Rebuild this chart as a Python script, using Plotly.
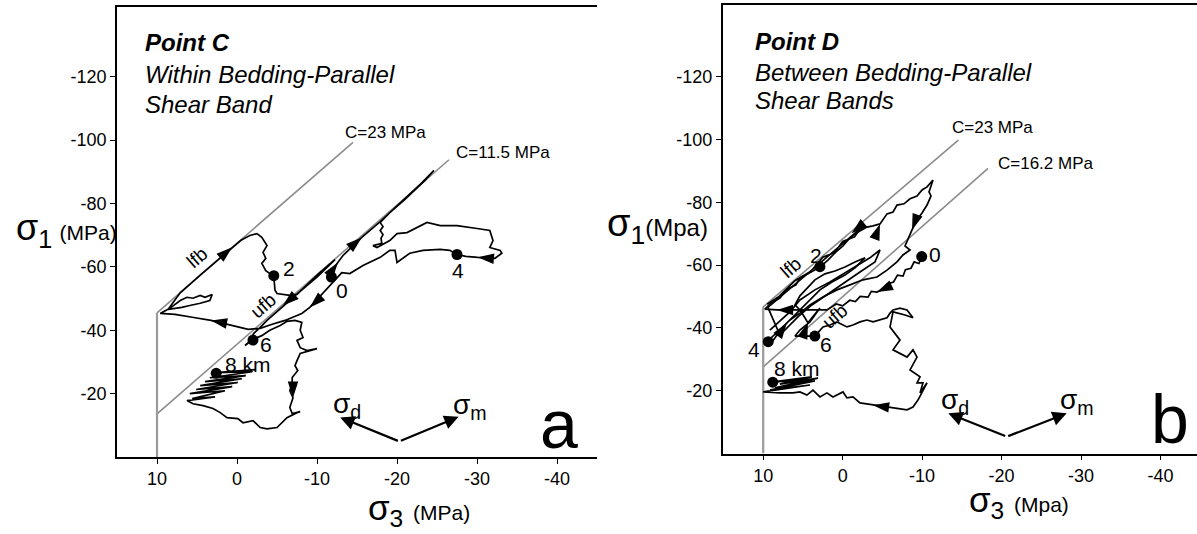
import plotly.graph_objects as go

FONT = "Liberation Sans, Arial, Helvetica, sans-serif"

# ---------------- axis ticks ----------------
X_TICKS = [10, 0, -10, -20, -30, -40]
X_TICK_TEXT = ["10", "0", "-10", "-20", "-30", "-40"]
Y_TICKS = [-20, -40, -60, -80, -100, -120]
Y_TICK_TEXT = ["-20", "-40", "-60", "-80", "-100", "-120"]

# ---------------- panel a (Point C) ----------------
A_ENV_23 = [(10, -45.5), (-14.5, -99.3)]
A_ENV_115 = [(10, -13.6), (-26.5, -93.8)]
A_VERTICAL = [(10, 0), (10, -45.5)]

A_PATH = [
    (-11.8, -56.6), (-12.1, -59.5), (-12.6, -61.4), (-13.25, -63.6), (-14.4, -66.4), (-15.6, -69.3),
    (-17.9, -74.3), (-20.4, -80.0), (-22.9, -86.0), (-24.6, -90.4),
    (-23.5, -87.3), (-21.0, -81.3), (-19.1, -77.1), (-17.9, -74.0), (-18.25, -72.7), (-17.9, -71.5),
    (-18.25, -70.2), (-18.0, -69.0), (-18.1, -67.4), (-17.0, -66.7), (-17.5, -66.1),
    (-19.1, -68.3), (-20.0, -70.5), (-21.25, -70.8), (-22.5, -72.4), (-23.75, -74.0), (-25.4, -73.0),
    (-27.5, -73.0), (-30.0, -72.1), (-31.6, -71.5), (-32.0, -68.3), (-31.6, -66.1), (-32.9, -65.2),
    (-33.1, -64.3), (-32.25, -62.7), (-31.0, -63.0), (-30.1, -63.0), (-28.6, -63.3), (-27.5, -63.9),
    (-26.6, -65.2), (-25.4, -65.5), (-23.25, -65.2), (-21.6, -64.3), (-20.0, -61.4), (-19.75, -65.2),
    (-19.1, -65.2), (-17.9, -63.0), (-15.75, -60.4), (-14.1, -57.9), (-13.1, -58.2),
    (-11.0, -52.6), (-10.1, -50.1), (-9.1, -47.2), (-8.1, -45.3), (-7.0, -44.1), (-6.0, -43.1),
    (-4.4, -41.9), (-2.9, -40.6), (-1.4, -40.3), (0.6, -41.5), (3.25, -43.1), (5.6, -44.1),
    (7.75, -45.0), (9.6, -45.3),
    (8.4, -46.9), (7.1, -49.4), (6.25, -50.4), (5.5, -50.1), (4.6, -51.0), (4.0, -50.4), (3.1, -51.3),
    (3.4, -49.4), (4.6, -48.5), (5.9, -47.8), (6.9, -47.2), (8.6, -46.6),
    (7.1, -51.8), (4.6, -57.4), (2.1, -62.9), (0.6, -66.2), (-0.5, -68.4),
    (-1.6, -69.9), (-2.5, -70.5), (-3.1, -69.3), (-3.75, -66.7), (-3.25, -64.6), (-3.6, -62.7),
    (-3.1, -61.1), (-3.6, -58.8), (-4.6, -57.0),
    (-4.75, -52.6), (-5.0, -51.6), (-6.6, -51.0), (-7.5, -51.3), (-10.1, -57.6), (-12.25, -62.3),
    (-10.1, -57.0), (-7.9, -52.3),
    (-6.6, -49.4), (-5.75, -47.8), (-4.75, -45.3), (-3.75, -43.1), (-2.9, -40.9), (-2.1, -39.0),
    (-1.4, -36.1), (-1.0, -35.2), (-2.0, -37.1), (-3.1, -38.3), (-4.1, -40.0), (-5.4, -41.5), (-6.25, -42.8),
    (-7.25, -43.1), (-8.1, -42.5), (-7.9, -40.0), (-8.25, -37.7), (-7.5, -36.8), (-7.9, -34.5),
    (-8.75, -33.6), (-10.0, -34.2), (-8.75, -33.3), (-7.9, -32.7), (-7.5, -30.4), (-7.25, -28.8),
    (-7.6, -27.3), (-6.9, -25.1), (-6.9, -23.2), (-6.6, -20.9), (-7.0, -18.7), (-6.6, -15.6),
    (-6.9, -13.7), (-7.9, -14.3),
    (-7.5, -14.0), (-6.25, -12.4), (-5.0, -9.3), (-3.75, -8.9), (-2.9, -9.3), (-2.0, -11.5),
    (-0.75, -10.8), (-0.1, -12.1), (1.25, -12.4), (2.1, -14.0), (3.0, -15.3), (4.25, -16.2),
    (5.5, -16.8), (6.25, -17.8),
    (2.75, -19.0), (5.6, -18.4), (1.5, -20.9), (5.9, -20.0), (0.6, -22.2), (5.1, -21.3), (-0.1, -23.5),
    (4.6, -22.5), (-0.6, -24.7), (4.0, -23.8), (-1.1, -25.7), (3.4, -25.0), (-1.9, -26.9), (2.6, -26.6),
    (-2.25, -27.6),
]
A_ARROWS = [(-12.6, -61.4), (-15.6, -69.3), (-9.1, -47.2), (3.25, -43.1), (0.6, -66.2),
            (-5.75, -47.8), (-7.0, -18.7), (-30.1, -63.0)]
A_ARROW_ANGLES = [35, 49, -133, -79, 49, -131, 180, -85]
A_DOTS = [(-11.8, -56.8), (-4.6, -57.2), (-27.5, -63.9), (-2.0, -36.9), (2.6, -26.4)]
A_DOT_LABELS = ["0", "2", "4", "6", "8 km"]
A_DOT_LABEL_POS = [(-13.1, -52.4), (-6.5, -59.6), (-27.6, -58.8), (-3.6, -35.4), (-1.4, -29.2)]

# ---------------- panel b (Point D) ----------------
B_ENV_23 = [(10, -46.7), (-14.56, -99.8)]
B_ENV_162 = [(10, -27.6), (-18.3, -90.8)]
B_VERTICAL = [(10, 0), (10, -46.7)]

B_PATH = [
    (-9.95, -62.7), (-9.6, -60.5), (-9.0, -61.0), (-8.6, -59.0), (-7.9, -58.5), (-7.6, -56.5),
    (-6.9, -56.8), (-6.4, -54.6), (-5.6, -54.0), (-5.0, -52.2), (-4.32, -51.4), (-3.6, -51.6),
    (-3.2, -49.8), (-2.2, -50.0), (-1.6, -48.4), (-0.9, -48.8), (0.0, -47.0), (0.8, -47.6),
    (1.98, -45.7), (4.12, -45.7), (6.64, -45.7), (8.27, -45.7), (9.79, -46.0),
    (8.9, -48.2), (7.9, -49.5), (7.14, -52.1), (5.88, -53.7), (5.38, -55.9), (4.37, -57.2),
    (3.61, -58.4), (2.86, -59.4), (1.85, -61.6), (0.84, -64.2), (-0.04, -66.1), (-1.04, -69.0),
    (-1.93, -70.5), (-3.06, -72.1), (-3.82, -72.5), (-4.7, -73.1), (-5.58, -76.3), (-6.34, -76.9),
    (-6.84, -79.1), (-7.72, -79.5), (-8.48, -81.1), (-9.36, -82.0), (-9.99, -83.9), (-10.62, -84.9),
    (-11.37, -87.1), (-10.87, -83.3), (-11.12, -82.0), (-10.62, -79.1), (-9.99, -76.6), (-9.23, -74.0),
    (-8.73, -71.2), (-8.22, -68.0), (-7.85, -66.1), (-8.48, -64.8), (-7.59, -63.2), (-6.84, -61.0),
    (-5.58, -58.4), (-4.32, -56.2), (-2.56, -55.3), (-0.92, -53.7), (0.72, -52.1), (2.48, -49.8),
    (4.12, -47.3), (5.38, -44.7), (6.64, -42.5), (7.9, -39.3), (8.9, -37.1), (9.37, -35.6),
    (9.16, -34.6), (8.53, -36.8), (7.64, -40.0), (7.01, -41.6), (6.0, -44.1), (5.0, -46.7),
    (3.87, -49.5), (2.86, -52.1), (1.35, -54.6), (-0.29, -56.8), (-1.55, -59.1), (-2.81, -62.3),
    (-1.55, -61.0), (-0.29, -59.4), (0.97, -58.1), (2.23, -57.2), (3.49, -55.3), (4.75, -52.1),
    (5.38, -50.2), (6.0, -47.3), (5.38, -45.7), (4.75, -43.2), (4.37, -41.6), (3.87, -43.2),
    (2.86, -46.3), (4.12, -41.9), (5.38, -39.3), (6.0, -37.4), (3.49, -37.4),
    (2.48, -40.3), (1.6, -40.9), (0.72, -41.9), (-0.54, -40.3), (-1.3, -40.9), (-2.18, -41.9),
    (-3.06, -42.5), (-3.82, -41.9), (-5.58, -43.2), (-5.96, -44.7), (-6.34, -45.7), (-7.22, -46.3),
    (-8.1, -45.7), (-8.85, -43.2), (-7.85, -44.1), (-6.34, -45.1), (-5.96, -40.3), (-7.22, -36.1),
    (-6.34, -33.0), (-8.1, -30.7), (-8.85, -33.0), (-9.36, -30.7), (-8.48, -26.6), (-9.74, -24.4),
    (-9.36, -22.5), (-10.11, -22.5), (-9.74, -19.3), (-10.62, -22.5), (-9.48, -17.0), (-8.85, -14.8),
    (-8.1, -13.9), (-6.34, -14.5), (-5.58, -14.8), (-3.82, -15.4), (-2.18, -16.1), (-1.3, -18.0),
    (-0.54, -17.7), (-0.04, -19.6), (1.22, -18.0), (1.98, -19.3), (2.86, -18.0), (3.74, -20.2),
    (4.5, -18.6), (5.38, -19.6), (6.26, -19.3), (7.9, -19.3), (10.0, -19.6),
    (4.12, -21.8), (9.16, -20.2), (3.49, -23.1), (8.53, -20.9), (3.11, -24.0), (7.9, -22.1),
    (3.87, -24.4), (8.78, -22.8), (4.12, -23.4),
]
# extra scribbles inside the band between the two envelopes
B_SCRIBBLE = [
    (9.16, -39.3), (6.64, -45.1), (5.38, -48.9), (3.49, -52.1), (1.6, -54.6), (-0.92, -58.4),
    (-3.43, -62.3), (-4.7, -64.8), (-4.07, -61.0), (-2.18, -57.8), (-0.29, -54.6), (1.6, -51.4),
    (3.87, -47.3), (5.38, -44.1), (6.64, -40.9), (7.9, -37.7),
    (9.41, -46.5), (6.64, -52.5), (4.12, -57.9), (1.6, -63.3), (-0.92, -68.8), (-2.18, -71.5),
    (-1.5, -69.0), (0.0, -67.5), (1.0, -64.0), (2.5, -62.5), (4.0, -58.0), (6.0, -55.0),
    (8.0, -50.0), (9.5, -47.5),
]
B_ARROWS = [(-4.32, -51.4), (8.27, -45.7), (-4.7, -73.1), (-8.73, -71.2), (-1.13, -70.1),
            (7.01, -41.6), (4.37, -41.6), (-3.82, -15.4)]
B_ARROW_ANGLES = [-115, -90, 20, 200, -130, 35, 20, -82]
B_DOTS = [(-9.95, -62.7), (2.86, -59.5), (9.37, -35.6), (3.5, -37.4), (8.8, -22.7)]
B_DOT_LABELS = ["0", "2", "4", "6", "8 km"]
B_DOT_LABEL_POS = [(-11.6, -63.5), (3.4, -63.2), (11.2, -33.0), (2.1, -34.6), (5.75, -27.1)]


def xs(pts):
    return [p[0] for p in pts]


def ys(pts):
    return [p[1] for p in pts]


fig = go.Figure()


def add_panel(xa, ya, env1, env2, vertical, paths, arrows, angles, dots):
    for env in (env1, env2):
        fig.add_trace(go.Scatter(x=xs(env), y=ys(env), mode="lines",
                                 line=dict(color="#8c8c8c", width=1.6),
                                 xaxis=xa, yaxis=ya, hoverinfo="skip"))
    fig.add_trace(go.Scatter(x=xs(vertical), y=ys(vertical), mode="lines",
                             line=dict(color="#9a9a9a", width=2.2),
                             xaxis=xa, yaxis=ya, hoverinfo="skip"))
    for path in paths:
        fig.add_trace(go.Scatter(x=xs(path), y=ys(path), mode="lines",
                                 line=dict(color="black", width=1.7),
                                 xaxis=xa, yaxis=ya, hoverinfo="skip"))
    fig.add_trace(go.Scatter(x=xs(arrows), y=ys(arrows), mode="markers",
                             marker=dict(symbol="arrow", size=17, color="black", angle=angles,
                                         line=dict(width=0)),
                             xaxis=xa, yaxis=ya, hoverinfo="skip"))
    fig.add_trace(go.Scatter(x=xs(dots), y=ys(dots), mode="markers",
                             marker=dict(symbol="circle", size=11, color="black"),
                             xaxis=xa, yaxis=ya, hoverinfo="skip"))


add_panel("x", "y", A_ENV_23, A_ENV_115, A_VERTICAL, [A_PATH], A_ARROWS, A_ARROW_ANGLES, A_DOTS)
add_panel("x2", "y2", B_ENV_23, B_ENV_162, B_VERTICAL, [B_PATH, B_SCRIBBLE], B_ARROWS, B_ARROW_ANGLES, B_DOTS)

ann = []


def text(x, y, s, size, xr, yr, xanchor="center", angle=0, bold=False, italic=False):
    if bold:
        s = "<b>" + s + "</b>"
    if italic:
        s = "<i>" + s + "</i>"
    ann.append(dict(x=x, y=y, xref=xr, yref=yr, text=s, showarrow=False, xanchor=xanchor,
                    yanchor="middle", textangle=angle,
                    font=dict(family=FONT, size=size, color="black")))


# panel a texts
text(11.8, -130.8, "Point C", 24, "x", "y", xanchor="left", bold=True, italic=True)
text(11.8, -120.6, "Within Bedding-Parallel", 24, "x", "y", xanchor="left", italic=True)
text(11.8, -111.2, "Shear Band", 24, "x", "y", xanchor="left", italic=True)
text(-18.6, -102.4, "C=23 MPa", 17, "x", "y")
text(-33.25, -96.1, "C=11.5 MPa", 17, "x", "y")
text(5.0, -63.0, "lfb", 19, "x", "y", angle=-41)
text(-3.3, -47.8, "ufb", 19, "x", "y", angle=-41)
for (px_, py_), lab in zip(A_DOT_LABEL_POS, A_DOT_LABELS):
    text(px_, py_, lab, 21, "x", "y")
text(-40.25, -10.5, "a", 68, "x", "y")
text(-13.75, -16.2, "σ<sub>d</sub>", 28, "x", "y")
text(-29.1, -15.9, "σ<sub>m</sub>", 28, "x", "y")

# panel b texts
text(11.3, -131.2, "Point D", 24, "x2", "y2", xanchor="left", bold=True, italic=True)
text(11.3, -121.3, "Between Bedding-Parallel", 24, "x2", "y2", xanchor="left", italic=True)
text(11.3, -112.3, "Shear Bands", 24, "x2", "y2", xanchor="left", italic=True)
text(-18.8, -103.8, "C=23 MPa", 17, "x2", "y2")
text(-25.6, -92.2, "C=16.2 MPa", 17, "x2", "y2")
text(6.5, -59.1, "lfb", 19, "x2", "y2", angle=-41)
text(1.0, -43.5, "ufb", 19, "x2", "y2", angle=-41)
for (px_, py_), lab in zip(B_DOT_LABEL_POS, B_DOT_LABELS):
    text(px_, py_, lab, 21, "x2", "y2")
text(-41.25, -11.0, "b", 68, "x2", "y2")
text(-14.1, -16.7, "σ<sub>d</sub>", 28, "x2", "y2")
text(-29.5, -16.7, "σ<sub>m</sub>", 28, "x2", "y2")

# sigma_d / sigma_m arrows
SIG_A = {"vertex": (-20.3, -4.9), "d": (-12.9, -12.5), "m": (-27.7, -12.7)}
SIG_B = {"vertex": (-20.65, -5.35), "d": (-13.3, -12.8), "m": (-28.2, -12.8)}
for sig, xr, yr in ((SIG_A, "x", "y"), (SIG_B, "x2", "y2")):
    for key in ("d", "m"):
        ann.append(dict(x=sig[key][0], y=sig[key][1], ax=sig["vertex"][0], ay=sig["vertex"][1],
                        xref=xr, yref=yr, axref=xr, ayref=yr, showarrow=True, text="",
                        arrowhead=2, arrowsize=1.3, arrowwidth=2.2, arrowcolor="black"))

# axis titles
ann.append(dict(x=14 / 1197, y=1 - 230 / 534, xref="paper", yref="paper", xanchor="left", yanchor="middle",
                showarrow=False, text="σ<sub>1</sub>\u2009<span style='font-size:21px'>(MPa)</span>",
                font=dict(family=FONT, size=36, color="black")))
ann.append(dict(x=-22.75, y=1 - 510 / 534, xref="x", yref="paper", xanchor="center", yanchor="middle",
                showarrow=False, text="σ<sub>3</sub> <span style='font-size:21px'>(MPa)</span>",
                font=dict(family=FONT, size=35, color="black")))
ann.append(dict(x=605 / 1197, y=1 - 226 / 534, xref="paper", yref="paper", xanchor="left", yanchor="middle",
                showarrow=False, text="σ<sub>1</sub><span style='font-size:24px'>(Mpa)</span>",
                font=dict(family=FONT, size=38, color="black")))
ann.append(dict(x=-22.2, y=1 - 502 / 534, xref="x2", yref="paper", xanchor="center", yanchor="middle",
                showarrow=False, text="σ<sub>3</sub> <span style='font-size:21px'>(Mpa)</span>",
                font=dict(family=FONT, size=35, color="black")))

axis_common = dict(showline=True, linecolor="black", linewidth=1.6, ticks="outside", ticklen=5,
                   tickwidth=1.3, tickcolor="black", showgrid=False, zeroline=False,
                   tickfont=dict(family=FONT, size=18, color="black"))

fig.update_layout(
    width=1197, height=534, margin=dict(l=0, r=0, t=0, b=0),
    paper_bgcolor="white", plot_bgcolor="white", showlegend=False,
    annotations=ann,
    xaxis=dict(domain=[117 / 1197, 597 / 1197], range=[15, -45], tickvals=X_TICKS, ticktext=X_TICK_TEXT,
               mirror=True, anchor="y", **axis_common),
    yaxis=dict(domain=[1 - 457 / 534, 1 - 7 / 534], range=[0, -142], tickvals=Y_TICKS, ticktext=Y_TICK_TEXT,
               anchor="x", **axis_common),
    xaxis2=dict(domain=[722.7 / 1197, 1.0], range=[15.1, -44.6], tickvals=X_TICKS, ticktext=X_TICK_TEXT,
                mirror=True, anchor="y2", **axis_common),
    yaxis2=dict(domain=[1 - 453.5 / 534, 1 - 5 / 534], range=[0, -142.8], tickvals=Y_TICKS,
                ticktext=Y_TICK_TEXT, anchor="x2", **axis_common),
)

fig.write_html("out.html", config={"displayModeBar": False},
               post_script="document.body.style.margin='0px';")
